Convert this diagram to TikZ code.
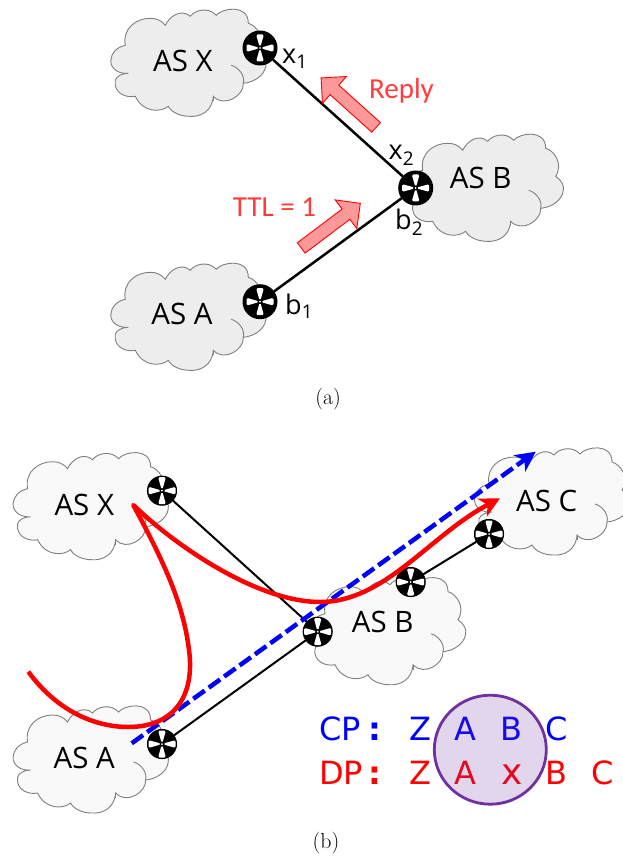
\documentclass[tikz,border=0pt]{standalone}
\usepackage{fontspec}
\setmainfont{Open Sans}
\newfontfamily\lightfont{Carlito}
\newfontfamily\pathfont{DejaVu Sans}
\newfontfamily\capfont{Latin Modern Roman}
\usetikzlibrary{shapes.geometric, shapes.arrows, arrows.meta, positioning}
\definecolor{cloudgray}{HTML}{EDEDED}
\definecolor{cloudlight}{HTML}{F9F9F9}
\definecolor{cloudline}{HTML}{7F7F7F}
\definecolor{ttlred}{HTML}{FF3B3B}
\definecolor{arrowfill}{HTML}{FF9999}
\definecolor{loopline}{HTML}{7030A0}
\begin{document}
\begin{tikzpicture}[x=1pt,y=-1pt]
	\tikzset{
		ascloud/.pic={
			\path[pic actions] (-60,10) .. controls (-70,11) and (-78,5) .. (-77.5,-3) .. controls (-77,-10) and (-72,-16) .. (-63,-18)
				.. controls (-66,-35) and (-52,-45) .. (-38,-45) .. controls (-32,-45) and (-27,-43) .. (-23,-38)
				.. controls (-19,-47) and (-7,-55) .. (2,-47) .. controls (6,-53) and (20,-57) .. (28,-48)
				.. controls (33,-55) and (60,-60) .. (60,-40) .. controls (68,-38) and (78,-25) .. (70,-12)
				.. controls (76,-8) and (79,-2) .. (77.5,3) .. controls (76,12) and (66,19) .. (55,20)
				.. controls (56,32) and (36,45) .. (25,33) .. controls (24,48) and (12,54) .. (1,53)
				.. controls (-8,53) and (-17,49) .. (-20,43) .. controls (-27,49) and (-45,50) .. (-53,33)
				.. controls (-62,35) and (-75,30) .. (-73,17) .. controls (-72,13) and (-66,10) .. (-60,10) -- cycle;
			\draw[draw=cloudline, line width=0.9pt] (43,2) .. controls (50,4) and (57,12) .. (55,20);
			\draw[draw=cloudline, line width=0.9pt] (25,33) -- (25,38);
		},
		cloudpic/.style={draw=cloudline, line width=0.9pt, fill=#1},
		aslabel/.style={inner sep=0pt, font=\fontsize{29.5}{33}\selectfont},
		portlabel/.style={inner sep=0pt, anchor=base west, font=\fontsize{27}{30}\selectfont},
		router/.style={circle, fill=black, inner sep=0pt, minimum size=#1*35pt, path picture={
			\begin{scope}[shift={(path picture bounding box.center)}, scale=#1]
				\fill[white] (-0.8,-2.5) -- (0.8,-2.5) -- (3.5,-12) -- (2.5,-13.5) -- (-2.5,-13.5) -- (-3.5,-12) -- cycle;
				\fill[white] (-0.8,2.5) -- (0.8,2.5) -- (3.5,12) -- (2.5,13.5) -- (-2.5,13.5) -- (-3.5,12) -- cycle;
				\fill[white] (-2.5,-0.8) -- (-2.5,0.8) -- (-12,3.5) -- (-13.5,2.5) -- (-13.5,-2.5) -- (-12,-3.5) -- cycle;
				\fill[white] (2.5,-0.8) -- (2.5,0.8) -- (12,3.5) -- (13.5,2.5) -- (13.5,-2.5) -- (12,-3.5) -- cycle;
				\fill[white] (0,0) circle (1pt);
			\end{scope}
		}},
		link/.style={draw=black, line width=#1, line cap=round},
		hintarrow/.style={single arrow, draw=red, fill=arrowfill, line width=0.9pt, inner xsep=0pt, inner ysep=6pt, text height=0pt, text depth=0pt, text width=0pt, minimum height=74pt, single arrow head extend=11.5pt, single arrow tip angle=90},
		hintlabel/.style={inner sep=0pt, text=ttlred, font=\lightfont\fontsize{29}{32}\selectfont},
		cpletter/.style={inner sep=0pt, anchor=base, text=blue, font=\pathfont\fontsize{32}{36}\selectfont},
		dpletter/.style={inner sep=0pt, anchor=base, text=red, font=\pathfont\fontsize{32}{36}\selectfont},
		caption/.style={inner sep=0pt, font=\capfont\fontsize{21.8}{26}\selectfont},
	}
	\useasboundingbox (0,0) rectangle (622,858);

	% top picture
	\pic[cloudpic=cloudgray] at (188.3,63.3) {ascloud};
	\pic[cloudpic=cloudgray] at (485.7,188.3) {ascloud};
	\pic[cloudpic=cloudgray] at (188.3,317.3) {ascloud};
	\node[aslabel] (xa) at (183,61) {AS X};
	\node[aslabel] (ba) at (480.7,178.3) {AS B};
	\node[aslabel] (aa) at (182,314) {AS A};

	\node[router=1] (x1) at (260,48) {};
	\node[router=1] (b2) at (415.7,188) {};
	\node[router=1] (b1) at (260,301.7) {};

	\draw[link=2.5pt] (x1) -- (b2);
	\draw[link=2.5pt] (b1) -- (b2);

	\node[portlabel] (x1label) at (282,64) {x\textsubscript{1}};
	\node[portlabel] (x2label) at (388.5,160) {x\textsubscript{2}};
	\node[portlabel] (b1label) at (285,314) {b\textsubscript{1}};
	\node[portlabel] (b2label) at (395,230) {b\textsubscript{2}};

	\node[hintarrow, rotate=138] (replyarrow) at (351,104.8) {};
	\node[hintarrow, rotate=37] (ttlarrow) at (328.2,227.6) {};
	\node[hintlabel] (replylabel) at (401.5,91) {Reply};
	\node[hintlabel] (ttllabel) at (274.5,207) {TTL = 1};

	\node[caption] (capa) at (328,399) {(a)};

	% bottom picture
	\pic[cloudpic=cloudlight] at (90.6,506.7) {ascloud};
	\pic[cloudpic=cloudlight] at (90.6,760) {ascloud};
	\pic[cloudpic=cloudlight] at (388,631.7) {ascloud};
	\pic[cloudpic=cloudlight] at (552,502) {ascloud};
	\node[aslabel] (xb) at (84.3,505) {AS X};
	\node[aslabel] (ab) at (84.3,758) {AS A};
	\node[aslabel] (bb) at (382.7,621.7) {AS B};
	\node[aslabel] (cb) at (546.7,500.7) {AS C};

	\node[router=0.86] (xr) at (162,490.7) {};
	\node[router=0.86] (ar) at (162,744) {};
	\node[router=0.86] (bl) at (317.7,631.7) {};
	\node[router=0.86] (br) at (410.7,582) {};
	\node[router=0.86] (cr) at (489,534) {};

	\draw[link=2pt] (xr) -- (bl);
	\draw[link=2pt] (ar) -- (bl);
	\draw[link=2pt] (br) -- (cr);

	\coordinate (cpstart) at (131.7,743.3);
	\coordinate (cpend) at (535.7,451.7);
	\coordinate (dpstart) at (28.3,671.7);
	\coordinate (dpturn) at (133.3,505);
	\coordinate (dpend) at (500,498.3);

	\draw[-{Stealth[length=20pt,width=20pt,inset=6pt]}, blue, line width=4.5pt, dash pattern=on 14pt off 5pt] (cpstart) -- (cpend);
	\draw[-{Stealth[length=20pt,width=20pt,inset=6pt]}, red, line width=4.5pt, line join=round] (dpstart) .. controls (60,715) and (100,727) .. (128,727)
		.. controls (175,727) and (195,695) .. (189,650) .. controls (183,600) and (160,555) .. (dpturn)
		.. controls (180,550) and (260,602) .. (320,602) .. controls (385,602) and (430,535) .. (dpend);

	% path letters, the circle goes over them
	\node[cpletter, anchor=base west] (cpname) at (319,740) {CP};
	\node[cpletter] (cpdots) at (375,740) {\bfseries :};
	\node[cpletter] (cpz) at (420,740) {Z};
	\node[cpletter] (cpa) at (465.7,740) {A};
	\node[cpletter] (cpb) at (511.7,740) {B};
	\node[cpletter] (cpc) at (556.7,740) {C};
	\node[dpletter, anchor=base west] (dpname) at (319,784.3) {DP};
	\node[dpletter] (dpdots) at (375,784.3) {\bfseries :};
	\node[dpletter] (dpz) at (420,784.3) {Z};
	\node[dpletter] (dpa) at (465.7,784.3) {A};
	\node[dpletter, font=\pathfont\fontsize{36}{36}\selectfont] (dpx) at (511.7,784.3) {x};
	\node[dpletter] (dpb) at (556.7,784.3) {B};
	\node[dpletter] (dpc) at (602.3,784.3) {C};
	\node[ellipse, draw=loopline, line width=2.8pt, fill=loopline, fill opacity=0.2, draw opacity=1, minimum width=112pt, minimum height=109pt, inner sep=0pt] (loop) at (490.3,749.7) {};

	\node[caption] (capb) at (326,843) {(b)};
\end{tikzpicture}
\end{document}
